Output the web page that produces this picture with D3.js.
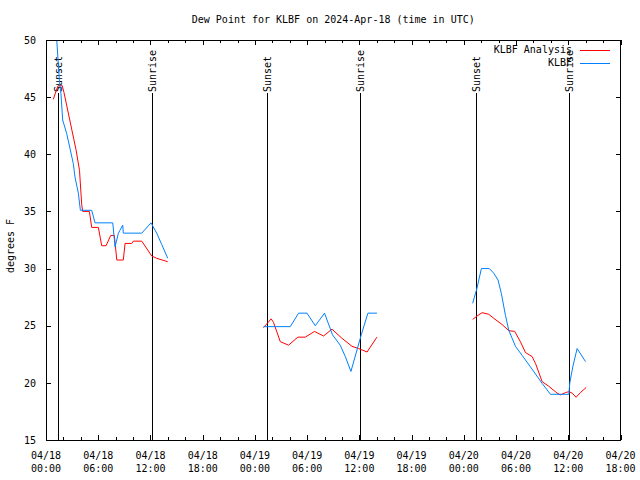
<!DOCTYPE html>
<html><head><meta charset="utf-8">
<script src="https://cdn.jsdelivr.net/npm/d3@7"></script>
<style>
body{margin:0;background:#fff}
svg{display:block}
text{font-family:"DejaVu Sans Mono","Liberation Mono",monospace;font-size:10px;fill:#000}
</style>
</head><body>
<svg id="chart" width="640" height="480"></svg>
<script>
const title = "Dew Point for KLBF on 2024-Apr-18 (time in UTC)";
const yAxisLabel = "degrees F";
const seriesNames = ["KLBF Analysis", "KLBF"];
const seriesColors = ["#ff0000", "#0080ff"];

const analysisTimes = [
  "2024-04-18T00:50","2024-04-18T01:14","2024-04-18T01:23","2024-04-18T01:52","2024-04-18T02:04",
  "2024-04-18T03:27","2024-04-18T03:51","2024-04-18T04:06","2024-04-18T04:13","2024-04-18T04:59",
  "2024-04-18T05:15","2024-04-18T06:01","2024-04-18T06:24","2024-04-18T06:54","2024-04-18T07:26",
  "2024-04-18T07:51","2024-04-18T08:08","2024-04-18T08:53","2024-04-18T09:05","2024-04-18T09:51",
  "2024-04-18T10:02","2024-04-18T11:00","2024-04-18T12:09","2024-04-18T12:43","2024-04-18T13:59",
  "2024-04-19T00:59","2024-04-19T01:52","2024-04-19T02:08","2024-04-19T02:55","2024-04-19T03:52",
  "2024-04-19T04:56","2024-04-19T05:47","2024-04-19T06:51","2024-04-19T07:53","2024-04-19T08:51",
  "2024-04-19T10:00","2024-04-19T11:09","2024-04-19T11:55","2024-04-19T12:53","2024-04-19T14:01",
  "2024-04-20T01:01","2024-04-20T01:31","2024-04-20T02:06","2024-04-20T02:52","2024-04-20T03:26",
  "2024-04-20T04:24","2024-04-20T05:10","2024-04-20T05:51","2024-04-20T06:30","2024-04-20T07:05",
  "2024-04-20T07:51","2024-04-20T08:14","2024-04-20T09:00","2024-04-20T09:46","2024-04-20T10:43",
  "2024-04-20T11:06","2024-04-20T11:41","2024-04-20T12:04","2024-04-20T12:27","2024-04-20T12:54",
  "2024-04-20T13:24","2024-04-20T14:04"
];
const analysisValues = [
  44.8,45.7,46.0,46.0,45.4,
  40.4,38.6,35.6,35.0,35.0,
  33.6,33.6,32.0,32.0,32.9,
  32.9,30.75,30.75,32.2,32.2,
  32.4,32.4,31.1,30.9,30.6,
  24.83,25.6,25.3,23.6,23.3,
  24.0,24.0,24.5,24.1,24.7,
  23.9,23.2,23.0,22.7,24.0,
  25.55,25.85,26.14,26.0,25.65,
  25.1,24.57,24.5,23.6,22.65,
  22.3,21.7,20.1,19.7,19.1,
  18.95,19.15,19.23,19.1,18.74,
  19.15,19.6
];

const obsTimes = [
  "2024-04-18T01:14","2024-04-18T01:32","2024-04-18T01:43","2024-04-18T01:55","2024-04-18T02:23",
  "2024-04-18T03:08","2024-04-18T03:20","2024-04-18T03:43","2024-04-18T03:57","2024-04-18T05:15",
  "2024-04-18T05:38","2024-04-18T07:40","2024-04-18T07:56","2024-04-18T08:19","2024-04-18T08:49",
  "2024-04-18T08:53","2024-04-18T11:00","2024-04-18T12:04","2024-04-18T12:43","2024-04-18T13:18",
  "2024-04-18T13:59",
  "2024-04-19T01:00","2024-04-19T04:04","2024-04-19T05:01","2024-04-19T05:59","2024-04-19T06:56",
  "2024-04-19T08:00","2024-04-19T08:55","2024-04-19T09:48","2024-04-19T10:23","2024-04-19T11:02",
  "2024-04-19T12:13","2024-04-19T12:59","2024-04-19T14:01",
  "2024-04-20T01:01","2024-04-20T01:31","2024-04-20T02:01","2024-04-20T02:56","2024-04-20T03:26",
  "2024-04-20T03:56","2024-04-20T04:19","2024-04-20T04:47","2024-04-20T05:10","2024-04-20T05:56",
  "2024-04-20T06:42","2024-04-20T07:39","2024-04-20T09:00","2024-04-20T09:57","2024-04-20T12:04",
  "2024-04-20T12:10","2024-04-20T12:31","2024-04-20T13:01","2024-04-20T13:59"
];
const obsValues = [
  50.0,46.5,45.3,43.0,41.8,
  39.2,38.0,36.6,35.1,35.1,
  34.0,34.0,31.9,33.1,33.8,
  33.1,33.1,34.0,33.1,32.1,
  30.9,
  24.92,24.92,26.1,26.1,25.0,
  26.1,24.2,23.3,22.3,21.0,
  24.2,26.1,26.1,
  26.96,28.3,30.0,30.0,29.6,
  29.0,27.8,25.9,24.6,23.2,
  22.4,21.4,19.95,19.0,19.0,
  19.95,21.4,23.0,21.86
];

const sunEventTimes = ["2024-04-18T01:25","2024-04-18T12:08","2024-04-19T01:20","2024-04-19T12:05","2024-04-20T01:21","2024-04-20T12:04"];
const sunEventLabels = ["Sunset","Sunrise","Sunset","Sunrise","Sunset","Sunrise"];

const xDomain = ["2024-04-18T00:00","2024-04-20T18:00"];
const xTickTimes = ["2024-04-18T00:00","2024-04-18T06:00","2024-04-18T12:00","2024-04-18T18:00",
  "2024-04-19T00:00","2024-04-19T06:00","2024-04-19T12:00","2024-04-19T18:00",
  "2024-04-20T00:00","2024-04-20T06:00","2024-04-20T12:00","2024-04-20T18:00"];
const yDomain = [15, 50];
const yTicks = [15, 20, 25, 30, 35, 40, 45, 50];

const parse = d3.utcParse("%Y-%m-%dT%H:%M");
const M = {left: 46, right: 620.5, top: 40, bottom: 440};
const svg = d3.select("#chart");

const x = d3.scaleUtc().domain(xDomain.map(parse)).range([M.left, M.right]);
const y = d3.scaleLinear().domain(yDomain).range([M.bottom, M.top]);

// title
svg.append("text").attr("x", (M.left + M.right) / 2).attr("y", 23)
  .attr("text-anchor", "middle").text(title);

// y label
svg.append("text").attr("transform", "translate(14,246) rotate(-90)")
  .attr("text-anchor", "middle").text(yAxisLabel);

// clip
svg.append("clipPath").attr("id", "clip").append("rect")
  .attr("x", M.left).attr("y", M.top).attr("width", M.right - M.left).attr("height", M.bottom - M.top);

// y axis ticks (left + mirrored right)
const yAxisL = d3.axisLeft(y).tickValues(yTicks).tickSize(-5).tickPadding(10).tickFormat(d3.format("d"));
const gyl = svg.append("g").attr("transform", `translate(${M.left},0)`).call(yAxisL);
gyl.select(".domain").remove();
gyl.selectAll("text").style("font-size", "10px").style("font-family", null);
const gyr = svg.append("g").attr("transform", `translate(${M.right},0)`)
  .call(d3.axisRight(y).tickValues(yTicks).tickSize(-5).tickFormat(""));
gyr.select(".domain").remove();

// x axis ticks
const xTickDates = xTickTimes.map(parse);
const minorTicks = d3.utcHour.every(2).range(x.domain()[0], d3.utcMinute.offset(x.domain()[1], 1));
const gxb = svg.append("g").attr("transform", `translate(0,${M.bottom})`)
  .call(d3.axisBottom(x).tickValues(minorTicks).tickSize(-3).tickFormat(""));
gxb.select(".domain").remove();
const gxbM = svg.append("g").attr("transform", `translate(0,${M.bottom})`)
  .call(d3.axisBottom(x).tickValues(xTickDates).tickSize(-5).tickFormat(""));
gxbM.select(".domain").remove();
const gxt = svg.append("g").attr("transform", `translate(0,${M.top})`)
  .call(d3.axisTop(x).tickValues(minorTicks).tickSize(-3).tickFormat(""));
gxt.select(".domain").remove();
const gxtM = svg.append("g").attr("transform", `translate(0,${M.top})`)
  .call(d3.axisTop(x).tickValues(xTickDates).tickSize(-5).tickFormat(""));
gxtM.select(".domain").remove();
svg.selectAll(".tick line").attr("stroke", "#000").attr("shape-rendering", "crispEdges");

const fmtDate = d3.utcFormat("%m/%d"), fmtTime = d3.utcFormat("%H:%M");
const xl = svg.append("g").selectAll("text").data(xTickDates).join("text")
  .attr("text-anchor", "middle");
xl.append("tspan").attr("x", d => x(d)).attr("y", 459).text(fmtDate);
xl.append("tspan").attr("x", d => x(d)).attr("y", 472).text(fmtTime);

// sunrise / sunset lines
const sun = sunEventTimes.map((t, i) => ({t: parse(t), label: sunEventLabels[i]}));
svg.append("g").selectAll("line").data(sun).join("line")
  .attr("x1", d => Math.round(x(d.t)) + 0.5).attr("x2", d => Math.round(x(d.t)) + 0.5)
  .attr("y1", 93).attr("y2", M.bottom)
  .attr("stroke", "#000").attr("stroke-width", 1).attr("shape-rendering", "crispEdges");
svg.append("g").selectAll("text").data(sun).join("text")
  .attr("transform", d => `translate(${Math.round(x(d.t)) + 0.5},92) rotate(-90)`)
  .attr("dominant-baseline", "central")
  .text(d => d.label);

// series
function segments(times, values) {
  const pts = times.map((t, i) => ({t: parse(t), v: values[i]}));
  const segs = [];
  let cur = [];
  pts.forEach((p, i) => {
    if (i > 0 && (p.t - pts[i - 1].t) > 4 * 3600e3) { segs.push(cur); cur = []; }
    cur.push(p);
  });
  if (cur.length) segs.push(cur);
  return segs;
}
const line = d3.line().x(d => x(d.t)).y(d => y(d.v));
const series = [
  {segs: segments(analysisTimes, analysisValues), color: seriesColors[0]},
  {segs: segments(obsTimes, obsValues), color: seriesColors[1]}
];
const gData = svg.append("g").attr("clip-path", "url(#clip)");
series.forEach(s => {
  gData.selectAll(null).data(s.segs).join("path")
    .attr("d", line).attr("fill", "none").attr("stroke", s.color).attr("stroke-width", 1);
});

// frame
svg.append("rect").attr("x", M.left + 0.5).attr("y", M.top + 0.5)
  .attr("width", Math.round(M.right - M.left) - 1).attr("height", M.bottom - M.top)
  .attr("fill", "none").attr("stroke", "#000").attr("shape-rendering", "crispEdges");

// legend
seriesNames.forEach((name, i) => {
  const ly = 49.5 + i * 13;
  svg.append("text").attr("x", 572).attr("y", ly).attr("text-anchor", "end")
    .attr("dominant-baseline", "central").text(name);
  svg.append("line").attr("x1", 580).attr("x2", 610).attr("y1", Math.round(ly) + 0.5).attr("y2", Math.round(ly) + 0.5)
    .attr("stroke", seriesColors[i]).attr("stroke-width", 1).attr("shape-rendering", "crispEdges");
});
</script>
</body></html>
